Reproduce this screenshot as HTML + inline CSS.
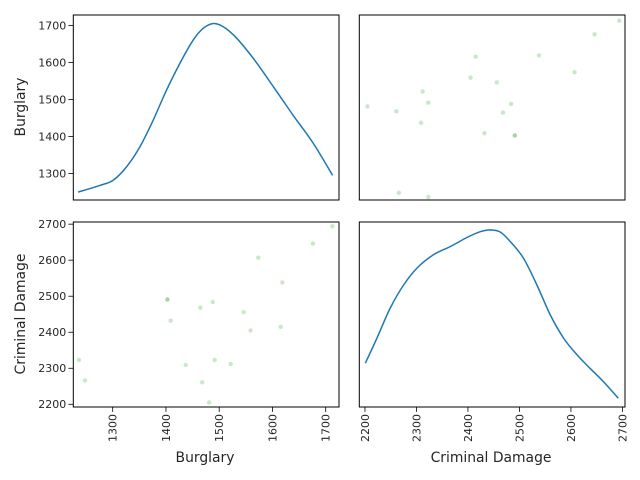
<!DOCTYPE html>
<html><head><meta charset="utf-8"><style>
html,body{margin:0;padding:0;background:#fff;}
svg{display:block;}
text{font-family:"DejaVu Sans","Liberation Sans",sans-serif;fill:#262626;}
</style></head><body>
<svg id="chart" width="640" height="480" viewBox="0 0 640 480" xmlns="http://www.w3.org/2000/svg"></svg>
<script>
const burglary = [1236.8,1248,1402.7,1402.7,1409,1437,1464.6,1468,1481,1488,1491.5,1521.6,1546,1559,1573.5,1615.5,1618.6,1676,1712.5];
const criminalDamage = [2323,2266,2491,2491,2432,2309,2468,2261,2205,2484,2323,2312,2456,2405,2607,2415,2538,2646,2694];
const kdeBurglaryX = [1235,1276,1301,1326,1351,1376,1401,1426,1451,1470,1489,1508,1533,1564,1602,1639,1677,1713];
const kdeBurglaryY = [1250,1268,1282,1318,1372,1444,1525,1597,1660,1692,1705,1696,1665,1611,1534,1457,1381,1295];
const kdeDamageX = [2200.6,2223,2249,2275,2301,2333,2366,2398,2424,2443,2463,2482,2508,2534,2560,2586,2612,2637,2663,2692];
const kdeDamageY = [2314,2383,2467,2531,2578,2615,2638,2663,2679,2684,2678,2652,2605,2531,2448,2383,2337,2300,2263,2217];
const burglaryTicks = [1300,1400,1500,1600,1700];
const damageTicks = [2200,2300,2400,2500,2600,2700];

const NS='http://www.w3.org/2000/svg';
const svg=document.getElementById('chart');
function mk(tag,attrs,parent){const e=document.createElementNS(NS,tag);for(const k in attrs)e.setAttribute(k,attrs[k]);(parent||svg).appendChild(e);return e;}
function lin(d0,d1,r0,r1){return v=>r0+(v-d0)/(d1-d0)*(r1-r0);}

const colL=[73.3,339], colR=[359.3,625];
const rowT=[15,200], rowB=[222,407];
const bX=lin(1226,1725,colL[0],colL[1]);
const dX=lin(2189,2705,colR[0],colR[1]);
const bYt=lin(1228.6,1728,rowT[1],rowT[0]);
const dYb=lin(2192.5,2706,rowB[1],rowB[0]);

function frame(x0,x1,y0,y1,name){
  const r=mk('rect',{x:x0,y:y0,width:x1-x0,height:y1-y0,fill:'none',stroke:'#000','stroke-width':1});
  
  
}
function line(xs,ys,fx,fy,name){
  const P=xs.map((v,i)=>[fx(v),fy(ys[i])]);
  let d='M'+P[0][0].toFixed(1)+','+P[0][1].toFixed(1);
  for(let i=0;i<P.length-1;i++){
    const p0=P[Math.max(i-1,0)],p1=P[i],p2=P[i+1],p3=P[Math.min(i+2,P.length-1)];
    const c1=[p1[0]+(p2[0]-p0[0])/6,p1[1]+(p2[1]-p0[1])/6];
    const c2=[p2[0]-(p3[0]-p1[0])/6,p2[1]-(p3[1]-p1[1])/6];
    d+=' C'+c1.map(v=>v.toFixed(1)).join(',')+' '+c2.map(v=>v.toFixed(1)).join(',')+' '+p2.map(v=>v.toFixed(1)).join(',');
  }
  const p=mk('path',{d:d,fill:'none',stroke:'#1f77b4','stroke-width':1.5,'stroke-linejoin':'round'});
  
  
}
function scatter(xs,ys,fx,fy,name){
  const g=mk('g',{});
  
  
  xs.forEach((v,i)=>{
    const c=mk('circle',{cx:fx(v).toFixed(1),cy:fy(ys[i]).toFixed(1),r:2.2,fill:'#2ca02c','fill-opacity':0.25},g);
    
    
  });
}
function yTicks(ticks,fy,x0,name){
  const g=mk('g',{});
  
  
  ticks.forEach(t=>{const y=fy(t);
    mk('line',{x1:x0-4.9,x2:x0,y1:y,y2:y,stroke:'#000','stroke-width':0.8},g);
    const tx=mk('text',{x:x0-7,y:y+3.9,'font-size':11,'text-anchor':'end'},g);tx.textContent=t;
    
    
  });
}
function xTicks(ticks,fx,y0,name){
  const g=mk('g',{});
  
  
  ticks.forEach(t=>{const x=fx(t);
    mk('line',{x1:x,x2:x,y1:y0,y2:y0+4.9,stroke:'#000','stroke-width':0.8},g);
    const tx=mk('text',{x:0,y:0,'font-size':11,'text-anchor':'end',transform:`translate(${x+3.9},${y0+7}) rotate(-90)`},g);tx.textContent=t;
    
    
  });
}

line(kdeBurglaryX,kdeBurglaryY,bX,bYt,'burglary-kde-line');
scatter(criminalDamage,burglary,dX,bYt,'scatter-damage-vs-burglary');
scatter(burglary,criminalDamage,bX,dYb,'scatter-burglary-vs-damage');
line(kdeDamageX,kdeDamageY,dX,dYb,'damage-kde-line');
frame(colL[0],colL[1],rowT[0],rowT[1],'axes-top-left');
frame(colR[0],colR[1],rowT[0],rowT[1],'axes-top-right');
frame(colL[0],colL[1],rowB[0],rowB[1],'axes-bottom-left');
frame(colR[0],colR[1],rowB[0],rowB[1],'axes-bottom-right');
yTicks(burglaryTicks,bYt,colL[0],'burglary-y-ticks');
yTicks(damageTicks,dYb,colL[0],'damage-y-ticks');
xTicks(burglaryTicks,bX,rowB[1],'burglary-x-ticks');
xTicks(damageTicks,dX,rowB[1],'damage-x-ticks');

function label(txt,x,y,rot,name){
  const t=mk('text',{x:0,y:0,'font-size':13.9,'text-anchor':'middle',transform:`translate(${x},${y}) rotate(${rot})`});
  t.textContent=txt;
  
  
}
label('Burglary',25,107,-90,'y-axis-title-burglary');
label('Criminal Damage',25,314,-90,'y-axis-title-criminal-damage');
label('Burglary',205,462,0,'x-axis-title-burglary');
label('Criminal Damage',491,462,0,'x-axis-title-criminal-damage');
</script>
</body></html>
